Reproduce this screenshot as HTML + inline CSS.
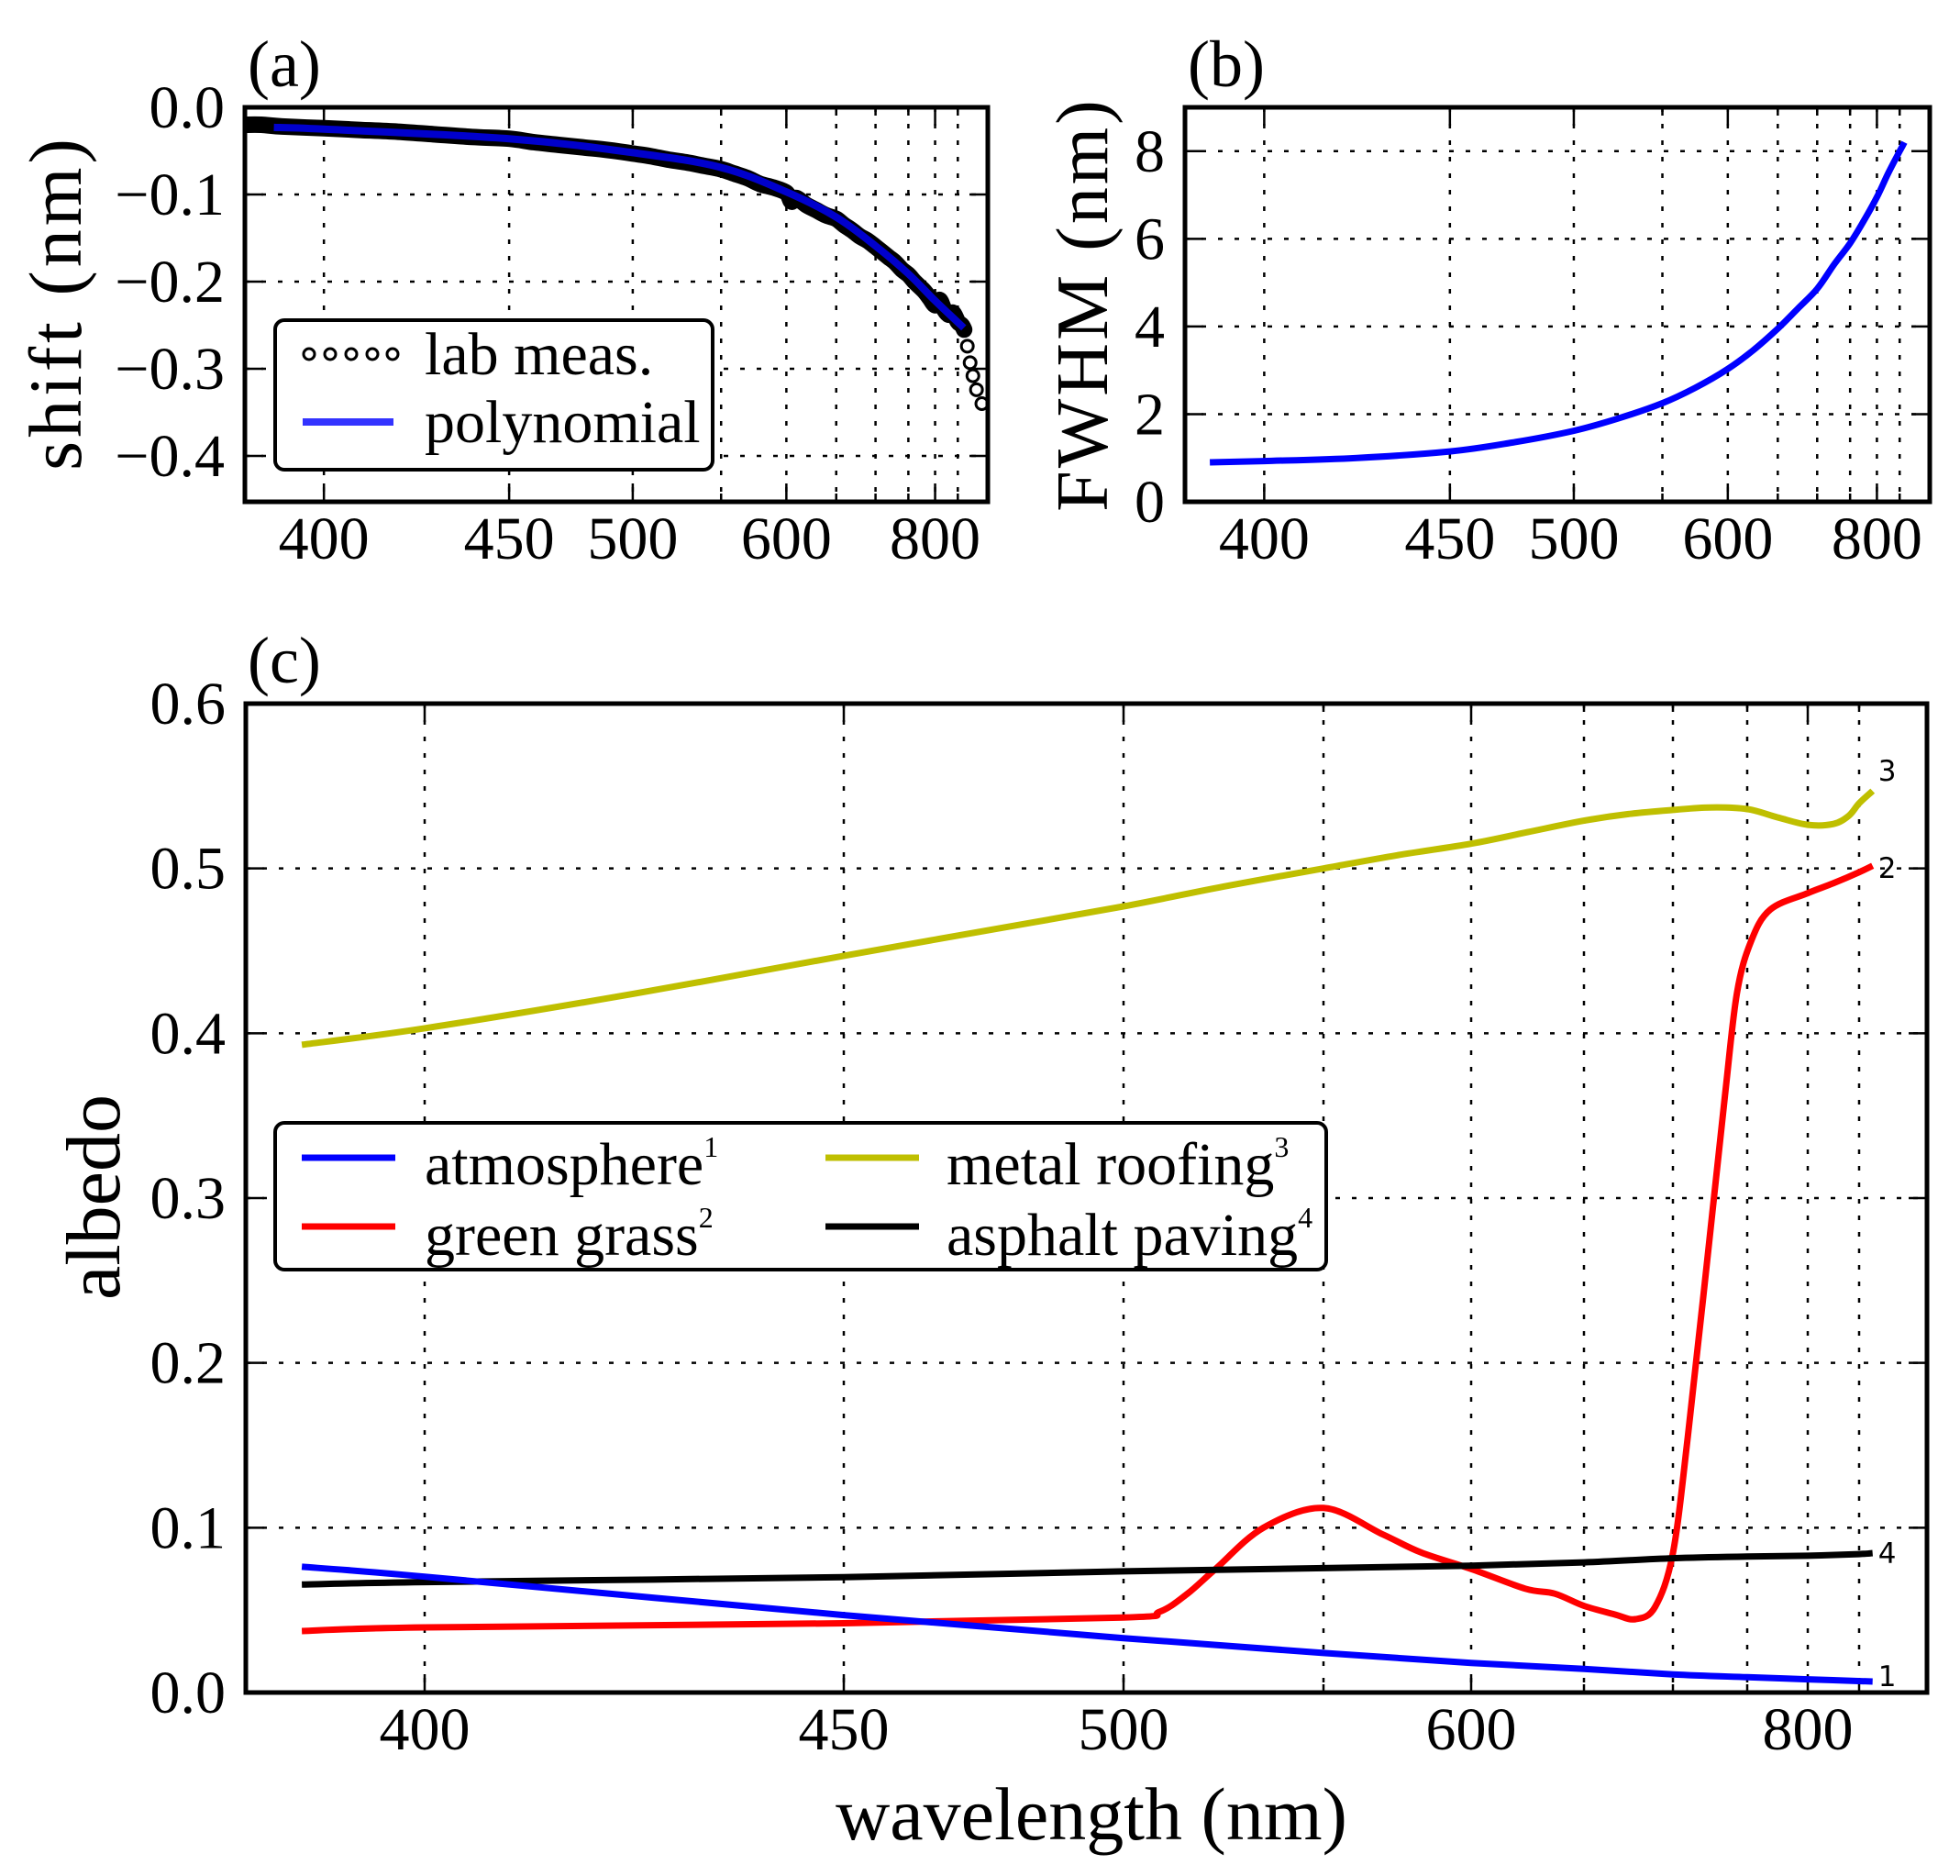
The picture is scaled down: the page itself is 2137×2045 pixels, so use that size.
<!DOCTYPE html>
<html><head><meta charset="utf-8">
<style>
html,body{margin:0;padding:0;background:#fff;}
svg{display:block;}
text{font-family:"Liberation Serif","DejaVu Serif",serif;fill:#000;}
.num{font-family:"DejaVu Sans","Liberation Sans",sans-serif;}
</style></head>
<body>
<svg id="fig" width="2137" height="2045" viewBox="0 0 2137 2045" xmlns="http://www.w3.org/2000/svg">
<g id="layer"></g>
</svg>
<script>
// ---- data ----
// panel (a): wavelength shift
const measLam = [381,385,390,400,410,420,430,440,450,460,470,480,490,500,510,520,530,540,550,560,570,580,590,600,605,610,620,630,640,650,660,670,680,690,700,710,720,730,740,750,760,770,780,790,800,810,820,830,840,850,860,866,874,881,888,897,912];
const measVal = [-0.020,-0.020,-0.022,-0.024,-0.026,-0.028,-0.031,-0.034,-0.036,-0.040,-0.043,-0.046,-0.049,-0.053,-0.056,-0.060,-0.063,-0.067,-0.071,-0.076,-0.081,-0.088,-0.092,-0.098,-0.108,-0.104,-0.112,-0.118,-0.124,-0.128,-0.135,-0.141,-0.148,-0.153,-0.160,-0.166,-0.172,-0.178,-0.186,-0.192,-0.199,-0.205,-0.211,-0.219,-0.227,-0.221,-0.232,-0.238,-0.236,-0.246,-0.250,-0.255,-0.274,-0.293,-0.308,-0.324,-0.340];
const polyLam = [388,400,450,500,550,600,650,700,750,800,865];
const polyVal = [-0.023,-0.025,-0.036,-0.052,-0.069,-0.097,-0.126,-0.159,-0.191,-0.222,-0.253];
// panel (b): FWHM
const fwhmLam = [387,400,425,450,475,500,525,550,575,600,625,650,675,700,725,750,775,800,825,850,862];
const fwhmVal = [0.90,0.93,1.00,1.15,1.35,1.62,1.90,2.25,2.60,3.03,3.45,3.95,4.40,4.86,5.40,5.90,6.40,6.95,7.50,8.00,8.20];
// panel (c): albedo
const atmLam = [387,400,450,500,550,600,650,700,750,800,865];
const atmVal = [0.0763,0.0703,0.047,0.033,0.024,0.018,0.0143,0.011,0.0093,0.008,0.0067];
const grassLam = [387,400,450,500,509,516,523,535,550,570,583,600,624,637,650,667,679,690,700,710,722,735,743,753,769,800,825,850,865];
const grassVal = [0.0373,0.0395,0.042,0.0455,0.049,0.060,0.075,0.100,0.112,0.096,0.085,0.075,0.063,0.060,0.0526,0.0475,0.0445,0.052,0.0846,0.155,0.253,0.362,0.424,0.4555,0.475,0.485,0.491,0.4977,0.5016];
const metalLam = [387,400,425,450,475,500,525,550,575,600,625,650,675,700,725,750,775,800,825,840,850,865];
const metalVal = [0.393,0.403,0.424,0.447,0.462,0.477,0.489,0.500,0.508,0.515,0.522,0.529,0.533,0.5355,0.537,0.536,0.531,0.5265,0.527,0.532,0.5395,0.547];
const asphLam = [387,400,450,500,550,600,650,700,750,800,850,865];
const asphVal = [0.0655,0.067,0.070,0.0735,0.0755,0.077,0.079,0.0815,0.0825,0.083,0.084,0.0846];
const majorTicks = [400,450,500,600,800];
const minorTicks = [550,650,700,750,850];
const yTicksA = [0,-0.1,-0.2,-0.3,-0.4];
const yLabelsA = ["0.0","\u22120.1","\u22120.2","\u22120.3","\u22120.4"];
const yTicksB = [0,2,4,6,8];
const yLabelsB = ["0","2","4","6","8"];
const yTicksC = [0,0.1,0.2,0.3,0.4,0.5,0.6];
const yLabelsC = ["0.0","0.1","0.2","0.3","0.4","0.5","0.6"];

// ---- axis scale (nonlinear wavelength axis, knots measured from reference) ----
const knotLam = [350,380,400,450,500,550,600,650,700,750,800,850,900,950];
const knotPx  = [-103,257,463,920,1225,1443,1604,1727,1824,1905,1971,2027,2076,2119];
const REF_L = 268, REF_W = 2101-268;
function tOf(lam){
  let i=0; while(i<knotLam.length-2 && lam>knotLam[i+1]) i++;
  const f=(lam-knotLam[i])/(knotLam[i+1]-knotLam[i]);
  const px=knotPx[i]+f*(knotPx[i+1]-knotPx[i]);
  return (px-REF_L)/REF_W;
}
const P = {
  a:{l:267,r:1077,t:117,b:547,ymin:-0.4526,ymax:0},
  b:{l:1292,r:2104,t:117,b:547,ymin:0,ymax:9},
  c:{l:268,r:2101,t:767,b:1845,ymin:0,ymax:0.6}
};
function X(p,lam){return p.l+tOf(lam)*(p.r-p.l);}
function Y(p,v){return p.b-(v-p.ymin)/(p.ymax-p.ymin)*(p.b-p.t);}

const NS="http://www.w3.org/2000/svg";
const layer=document.getElementById('layer');
function mk(tag,attrs,name,parent){
  const el=document.createElementNS(NS,tag);
  for(const k in attrs) el.setAttribute(k,attrs[k]);
  
  
  (parent||layer).appendChild(el);
  return el;
}
function txt(s,attrs,name,parent){const t=mk('text',attrs,name,parent);t.textContent=s;return t;}

function smoothPath(pts){
  let d='M'+pts[0][0].toFixed(1)+','+pts[0][1].toFixed(1);
  for(let i=0;i<pts.length-1;i++){
    const p0=pts[Math.max(0,i-1)],p1=pts[i],p2=pts[i+1],p3=pts[Math.min(pts.length-1,i+2)];
    const c1x=p1[0]+(p2[0]-p0[0])/6,c1y=p1[1]+(p2[1]-p0[1])/6;
    const c2x=p2[0]-(p3[0]-p1[0])/6,c2y=p2[1]-(p3[1]-p1[1])/6;
    d+=' C'+c1x.toFixed(1)+','+c1y.toFixed(1)+' '+c2x.toFixed(1)+','+c2y.toFixed(1)+' '+p2[0].toFixed(1)+','+p2[1].toFixed(1);
  }
  return d;
}

function axes(key,p,yt,yl,clipId){
  const g=mk('g',{},'panel-'+key+'-axes');
  const cp=mk('clipPath',{id:clipId},'clip-'+key,g);
  mk('rect',{x:p.l,y:p.t,width:p.r-p.l,height:p.b-p.t},'clip-rect',cp);
  const all=majorTicks.concat(minorTicks);
  all.forEach(l=>{
    const x=X(p,l);
    mk('line',{x1:x,y1:p.t,x2:x,y2:p.b,stroke:'#000','stroke-width':2.5,'stroke-dasharray':'5,13'},'x-gridline',g);
  });
  yt.forEach(v=>{
    const y=Y(p,v);
    if(y>p.t+3&&y<p.b-3) mk('line',{x1:p.l,y1:y,x2:p.r,y2:y,stroke:'#000','stroke-width':2.5,'stroke-dasharray':'5,13'},'y-gridline',g);
  });
  majorTicks.forEach(l=>{
    const x=X(p,l);
    mk('line',{x1:x,y1:p.b,x2:x,y2:p.b-20,stroke:'#000','stroke-width':2.5},'x-major-tick',g);
    mk('line',{x1:x,y1:p.t,x2:x,y2:p.t+20,stroke:'#000','stroke-width':2.5},'x-major-tick-top',g);
    txt(String(l),{x:x,y:p.b+62,'text-anchor':'middle','font-size':66},'x-tick-label',g);
  });
  minorTicks.forEach(l=>{
    const x=X(p,l);
    mk('line',{x1:x,y1:p.b,x2:x,y2:p.b-9,stroke:'#000','stroke-width':2.5},'x-minor-tick',g);
    mk('line',{x1:x,y1:p.t,x2:x,y2:p.t+9,stroke:'#000','stroke-width':2.5},'x-minor-tick-top',g);
  });
  yt.forEach((v,i)=>{
    const y=Y(p,v);
    mk('line',{x1:p.l,y1:y,x2:p.l+20,y2:y,stroke:'#000','stroke-width':2.5},'y-tick',g);
    mk('line',{x1:p.r,y1:y,x2:p.r-20,y2:y,stroke:'#000','stroke-width':2.5},'y-tick-right',g);
    txt(yl[i],{x:p.l-22,y:y+22,'text-anchor':'end','font-size':66},'y-tick-label',g);
  });
  return g;
}
function frame(key,p){
  mk('rect',{x:p.l,y:p.t,width:p.r-p.l,height:p.b-p.t,fill:'none',stroke:'#000','stroke-width':5},'panel-'+key+'-frame');
}

// ---------- panel (a) ----------
(function(){
  const p=P.a;
  axes('a',p,yTicksA,yLabelsA,'clipA');
  const g=mk('g',{'clip-path':'url(#clipA)'},'shift-series');
  const mpts=measLam.map((l,i)=>[X(p,l),Y(p,measVal[i])]);
  const band=mpts.filter((pt,i)=>measLam[i]<=866);
  mk('path',{d:smoothPath(band),fill:'none',stroke:'#000','stroke-width':18,'stroke-linejoin':'round','stroke-linecap':'round'},'lab-meas-band',g);
  mpts.forEach(pt=>{
    mk('circle',{cx:pt[0],cy:pt[1],r:6.5,fill:'none',stroke:'#000','stroke-width':3},'lab-meas-point',g);
  });
  const ppts=polyLam.map((l,i)=>[X(p,l),Y(p,polyVal[i])]);
  mk('path',{d:smoothPath(ppts),fill:'none',stroke:'#0000ff','stroke-opacity':0.8,'stroke-width':8},'polynomial-line',g);
  frame('a',p);
  txt('(a)',{x:270,y:94,'font-size':72},'panel-a-title');
  txt('shift (nm)',{x:0,y:0,'text-anchor':'middle','font-size':82,'letter-spacing':4,transform:'translate(88,330) rotate(-90)'},'y-axis-title-shift');
  // legend
  const lg=mk('g',{},'legend-a');
  mk('rect',{x:300,y:349,width:477,height:163,rx:10,fill:'#fff',stroke:'#000','stroke-width':4},'legend-a-box',lg);
  [337,360,383,406,428].forEach(cx=>{
    mk('circle',{cx:cx,cy:386,r:6,fill:'none',stroke:'#000','stroke-width':3},'legend-marker-lab',lg);
  });
  txt('lab meas.',{x:463,y:408,'font-size':66},'legend-label-lab',lg);
  mk('line',{x1:330,y1:460,x2:429,y2:460,stroke:'#0000ff','stroke-opacity':0.8,'stroke-width':8},'legend-line-polynomial',lg);
  txt('polynomial',{x:463,y:482,'font-size':66},'legend-label-polynomial',lg);
})();

// ---------- panel (b) ----------
(function(){
  const p=P.b;
  axes('b',p,yTicksB,yLabelsB,'clipB');
  const g=mk('g',{'clip-path':'url(#clipB)'},'fwhm-series');
  const pts=fwhmLam.map((l,i)=>[X(p,l),Y(p,fwhmVal[i])]);
  mk('path',{d:smoothPath(pts),fill:'none',stroke:'#0000ff','stroke-width':7},'fwhm-line',g);
  frame('b',p);
  txt('(b)',{x:1295,y:94,'font-size':72},'panel-b-title');
  txt('FWHM (nm)',{x:0,y:0,'text-anchor':'middle','font-size':80,'letter-spacing':3,transform:'translate(1207,332) rotate(-90)'},'y-axis-title-fwhm');
})();

// ---------- panel (c) ----------
(function(){
  const p=P.c;
  axes('c',p,yTicksC,yLabelsC,'clipC');
  const g=mk('g',{'clip-path':'url(#clipC)'},'albedo-series');
  const series=[
    [metalLam,metalVal,'#bfbf00','metal-roofing-line'],
    [grassLam,grassVal,'#ff0000','green-grass-line'],
    [asphLam,asphVal,'#000000','asphalt-paving-line'],
    [atmLam,atmVal,'#0000ff','atmosphere-line']
  ];
  series.forEach(s=>{
    const pts=s[0].map((l,i)=>[X(p,l),Y(p,s[1][i])]);
    mk('path',{d:smoothPath(pts),fill:'none',stroke:s[2],'stroke-width':7,'stroke-linejoin':'round'},s[3],g);
  });
  // end labels
  const ends=[[metalLam,metalVal,'3',-22,'end-label-3'],[grassLam,grassVal,'2',2,'end-label-2'],[asphLam,asphVal,'4',0,'end-label-4'],[atmLam,atmVal,'1',-6,'end-label-1']];
  ends.forEach(e=>{
    const n=e[0].length-1;
    txt(e[2],{x:X(p,e[0][n])+6,y:Y(p,e[1][n])+e[3]+11,'font-size':31,'class':'num'},e[4]);
  });
  frame('c',p);
  txt('(c)',{x:270,y:744,'font-size':72},'panel-c-title');
  txt('albedo',{x:0,y:0,'text-anchor':'middle','font-size':84,transform:'translate(130,1305) rotate(-90)'},'y-axis-title-albedo');
  txt('wavelength (nm)',{x:1190,y:2005,'text-anchor':'middle','font-size':82},'x-axis-title');
  // legend
  const lg=mk('g',{},'legend-c');
  mk('rect',{x:300,y:1224,width:1146,height:160,rx:10,fill:'#fff',stroke:'#000','stroke-width':4},'legend-c-box',lg);
  const items=[
    [329,1262,'#0000ff','atmosphere','1',463,1291,'legend-atmosphere'],
    [329,1337,'#ff0000','green grass','2',463,1368,'legend-green-grass'],
    [900,1262,'#bfbf00','metal roofing','3',1032,1291,'legend-metal-roofing'],
    [900,1337,'#000000','asphalt paving','4',1032,1368,'legend-asphalt-paving']
  ];
  items.forEach(it=>{
    mk('line',{x1:it[0],y1:it[1],x2:it[0]+102,y2:it[1],stroke:it[2],'stroke-width':7},it[7]+'-handle',lg);
    const t=txt('',{x:it[5],y:it[6],'font-size':66},it[7]+'-label',lg);
    const a=document.createElementNS(NS,'tspan');a.textContent=it[3];t.appendChild(a);
    const b=document.createElementNS(NS,'tspan');b.setAttribute('font-size','32');b.setAttribute('dy','-30');b.textContent=it[4];t.appendChild(b);
  });
})();
</script>
</body></html>
